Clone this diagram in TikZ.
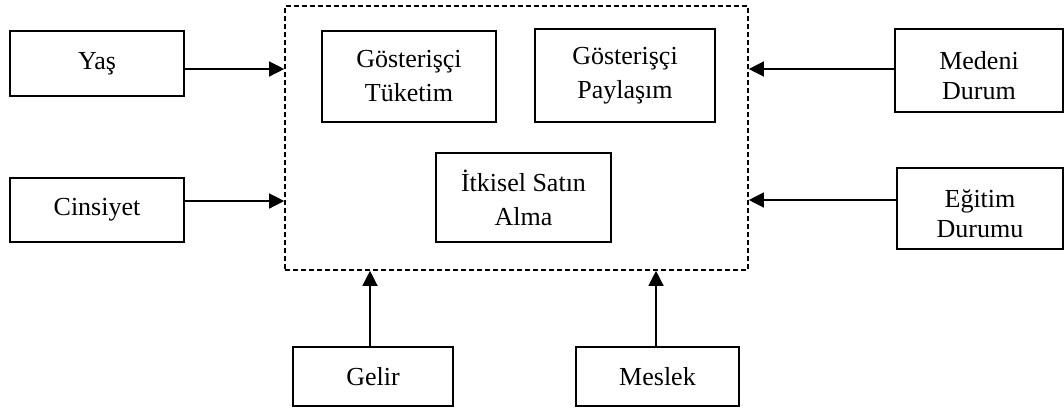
\documentclass[tikz,border=0pt]{standalone}
\usepackage{fontspec}
\setmainfont{Liberation Serif}
\usetikzlibrary{arrows.meta}
\begin{document}
\begin{tikzpicture}[x=1pt,y=-1pt,
  box/.style={draw=black,line width=2.4pt,fill=white,align=center,inner sep=0pt,
    font=\fontsize{26}{30}\selectfont},
  txt/.style={align=center,inner sep=0pt,font=\fontsize{26}{30}\selectfont},
  inbox/.style={draw=black,line width=1.8pt,align=center,inner sep=0pt,
    font=\fontsize{26}{34}\selectfont},
  dashbox/.style={draw=black,line width=1.6pt,dash pattern=on 5pt off 3pt,inner sep=0pt},
  arr/.style={line width=1.3pt,-{Triangle[length=15pt,width=15pt]}}]
\useasboundingbox (0,0) rectangle (1064,408);
\node[dashbox,minimum width=463pt,minimum height=264pt] (dash) at (516.5,138) {};
\node[inbox,minimum width=174pt,minimum height=91pt] (tuk) at (409,76.5) {Gösterişçi\\Tüketim};
\node[inbox,minimum width=180pt,minimum height=93pt] (pay) at (625,75.5) {Gösterişçi\\Paylaşım};
\node[inbox,minimum width=175pt,minimum height=89pt] (itk) at (523.5,197.5) {İtkisel Satın\\Alma};
\node[box,minimum width=174pt,minimum height=65pt] (yas) at (97,63.5) {Yaş};
\node[box,minimum width=174pt,minimum height=64pt] (cin) at (97,210) {Cinsiyet};
\node[box,minimum width=168pt,minimum height=83pt] (med) at (979,70.5) {};
\node[txt] (medt) at ([yshift=-5pt]med.center) {Medeni\\Durum};
\node[box,minimum width=166pt,minimum height=81pt] (egi) at (980,208.5) {};
\node[txt] (egit) at ([yshift=-5pt]egi.center) {Eğitim\\Durumu};
\node[box,minimum width=160pt,minimum height=59pt] (gel) at (373,376.5) {Gelir};
\node[box,minimum width=163pt,minimum height=59pt] (mes) at (657.5,376.5) {Meslek};
\draw[arr] (yas.east |- 0,69) -- (dash.west |- 0,69);
\draw[arr] (cin.east |- 0,201) -- (dash.west |- 0,201);
\draw[arr] (med.west |- 0,69) -- (dash.east |- 0,69);
\draw[arr] (egi.west |- 0,200) -- (dash.east |- 0,200);
\draw[arr] (gel.north -| 370,0) -- (dash.south -| 370,0);
\draw[arr] (mes.north -| 656,0) -- (dash.south -| 656,0);
\end{tikzpicture}
\end{document}
